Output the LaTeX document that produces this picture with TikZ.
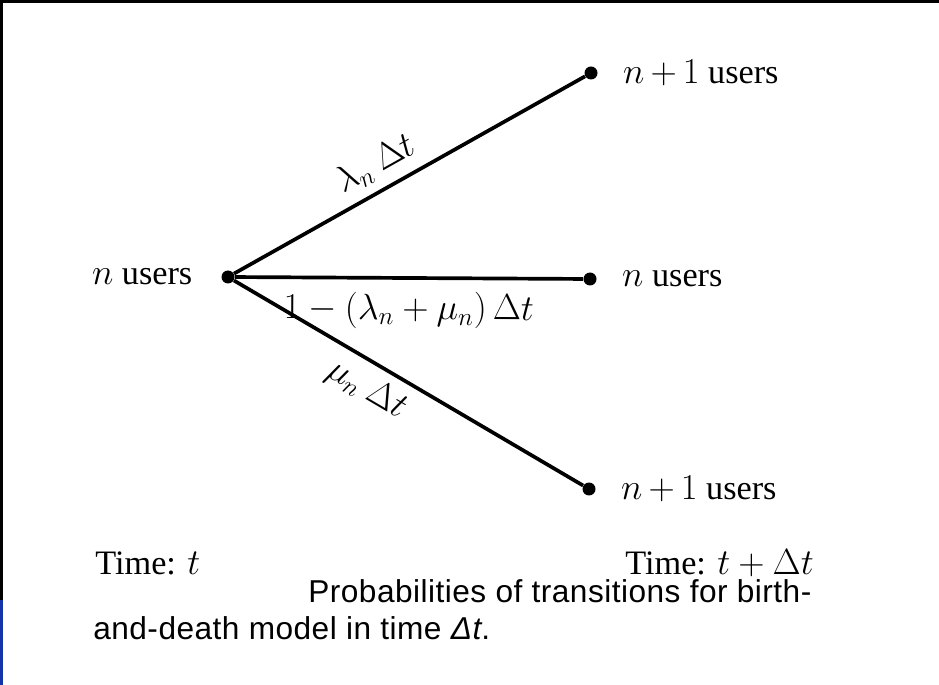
\documentclass[tikz,border=0pt]{standalone}
\usepackage{fontspec}
\setmainfont{Liberation Serif}
\setsansfont{Liberation Sans}
\usetikzlibrary{positioning}
\definecolor{frameblue}{RGB}{20,50,170}
\newcommand\nplusone{$n\mskip3mu{+}\mskip3mu1$}
\tikzset{
  usersdot/.style={
    circle,
    fill=black,
    inner sep=0pt,
    minimum size=0.26cm,
  },
  statelabel/.style={
    font=\fontsize{19.5}{23}\selectfont,
    inner sep=0pt,
  },
  rate/.style={
    font=\fontsize{19.5}{23}\selectfont,
    sloped,
    inner sep=5pt,
  },
  branch/.style={
    line width=2.1pt,
    black,
  },
  caption/.style={
    font=\sffamily\fontsize{18}{22}\selectfont\addfontfeature{LetterSpace=1.5},
    inner sep=0pt,
    anchor=west,
  },
}

\begin{document}
\begin{tikzpicture}[x=0.02cm, y=-0.02cm]
\useasboundingbox (0,0) rectangle (939,685);
% frame of the scan
\fill[black] (0,0) rectangle (939,3);
\fill[black] (0,0) rectangle (3,685);
\fill[frameblue] (0,600) rectangle (3,685);

% states
\node[usersdot] (now) at (228,277) {};
\node[usersdot] (up) at (591,73) {};
\node[usersdot] (stay) at (590,279) {};
\node[usersdot] (down) at (589,489) {};

\node[statelabel, left=0.57cm of now] 
  (nowlabel) 
  {$n$ users};
\node[statelabel, right=0.5cm of up] 
  (uplabel) 
  {\nplusone{} users};
\node[statelabel, right=0.5cm of stay] 
  (staylabel) 
  {$n$ users};
\node[statelabel, right=0.5cm of down] 
  (downlabel) 
  {\nplusone{} users};

% transitions
\begin{scope}[branch]
\draw
  (now) -- node[rate, above, pos=0.44] {$\lambda_n\ \Delta t$} (up);
\draw
  (now) -- node[rate, below, inner sep=7pt] {$1-(\lambda_n+\mu_n)\,\Delta t$} (stay);
\draw
  (now) -- node[rate, below, pos=0.42] {$\mu_n\ \Delta t$} (down);
\end{scope}

% times and caption
\node[statelabel, anchor=west] 
  (tnow) 
  at (95,563) 
  {Time: $t$};
\node[statelabel, anchor=west] 
  (tnext) 
  at (625,563) 
  {Time: $t+\Delta t$};
\node[caption] 
  (cap1) 
  at (308,591) 
  {Probabilities of transitions for birth-};
\node[caption] 
  (cap2) 
  at (93,628) 
  {and-death model in time {\itshape Δt}.};
\end{tikzpicture}
\end{document}
